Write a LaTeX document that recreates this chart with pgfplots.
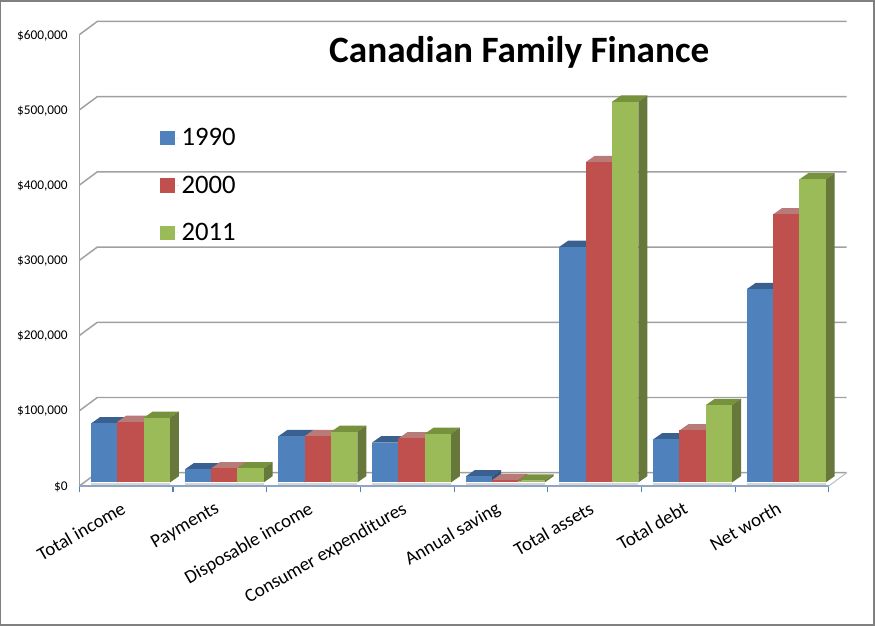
\documentclass[border=0pt]{standalone}
\usepackage{fontspec}
\setmainfont{Carlito}
\usepackage{pgfplots}
\pgfplotsset{compat=1.18}
\definecolor{bfront}{HTML}{4F81BD}\definecolor{btop}{HTML}{3A6090}\definecolor{bside}{HTML}{34537C}
\definecolor{rfront}{HTML}{C0504D}\definecolor{rtop}{HTML}{B87B78}\definecolor{rside}{HTML}{8C3A38}
\definecolor{gfront}{HTML}{9BBB59}\definecolor{gtop}{HTML}{76923C}\definecolor{gside}{HTML}{66783A}
\definecolor{gridc}{HTML}{A0A0A0}\definecolor{axisc}{HTML}{8FA6C2}\definecolor{tickc}{HTML}{4F81BD}
% one 3D bar: category, slot, value in dollars, colour prefix
\newcommand{\threedbar}[4]{%
 \edef\xa{\fpeval{#1+0.125+#2*0.2808}}\edef\xb{\fpeval{\xa+0.2808}}%
 \edef\xc{\fpeval{\xb+0.096}}\edef\xd{\fpeval{\xa+0.096}}%
 \edef\yb{4700}\edef\yt{\fpeval{#3+4700}}\edef\yu{\fpeval{#3+4700+8378}}\edef\yc{\fpeval{4700+8378}}%
 \addplot[fill=#4top,draw=none] coordinates {(\xa,\yt)(\xb,\yt)(\xc,\yu)(\xd,\yu)} --cycle;
 \addplot[fill=#4side,draw=none] coordinates {(\xb,\yb)(\xc,\yc)(\xc,\yu)(\xb,\yt)} --cycle;
 \addplot[fill=#4front,draw=none] coordinates {(\xa,\yb)(\xb,\yb)(\xb,\yt)(\xa,\yt)} --cycle;
}
\newcommand{\cluster}[4]{%
 \edef\sa{\fpeval{#1+0.125}}\edef\sb{\fpeval{#1+0.125+3*0.2808}}%
 \addplot[draw=black!16,line width=1.5pt] coordinates {(\sa,2900)(\sb,2900)};
 \threedbar{#1}{0}{#2}{b}\threedbar{#1}{1}{#3}{r}\threedbar{#1}{2}{#4}{g}%
}
\newcommand{\backgrid}[1]{%
 \edef\yu{\fpeval{#1+17686}}%
 \addplot[draw=gridc,line width=1.1pt] coordinates {(0,#1)(0.192,\yu)(8.192,\yu)};
}
\begin{document}
\begin{tikzpicture}
\path[use as bounding box] (0,0) rectangle (656.25pt,469.5pt);
\draw[color=black!50,line width=1.2pt] (0.5pt,0.6pt) rectangle (655.6pt,468.9pt);
\begin{axis}[
  at={(59.5pt,105pt)},anchor=origin,
  scale only axis,width=562.05pt,height=338.475pt,
  xmin=0,xmax=8,ymin=0,ymax=600000,
  clip=false,
  axis x line*=bottom,axis y line*=left,
  x axis line style={draw=axisc,line width=1.1pt,-},
  y axis line style={draw=gridc,line width=1.1pt,-},
  tick align=outside,
  major tick length=0pt,minor tick length=4.5pt,
  xtick={0.5,1.5,2.5,3.5,4.5,5.5,6.5,7.5},
  minor xtick={0,1,2,3,4,5,6,7,8},
  minor tick style={draw=tickc,line width=0.8pt},
  xticklabels={Total income,Payments,Disposable income,Consumer expenditures,Annual saving,Total assets,Total debt,Net worth},
  xticklabel style={font=\fontsize{14.2pt}{16pt}\selectfont,rotate=30,anchor=north east,inner sep=0pt,yshift=-7.3pt,xshift=-9.3pt},
  ytick={0,100000,200000,300000,400000,500000,600000},
  yticklabels={{\$0},{\$100,000},{\$200,000},{\$300,000},{\$400,000},{\$500,000},{\$600,000}},
  yticklabel style={font=\fontsize{10pt}{12pt}\selectfont,anchor=east,inner sep=0pt,xshift=-8.5pt,yshift=-0.5pt},
  scaled y ticks=false,
  title={Canadian Family Finance},
  title style={font=\fontsize{27.9pt}{32pt}\selectfont\bfseries,at={(0.587,0.9425)},anchor=center,inner sep=0pt},
  legend image code/.code={\fill[#1] (0pt,-5.4pt) rectangle (10.8pt,5.4pt);\path (0pt,0pt) -- (14pt,0pt);},
  legend style={draw=none,fill=none,at={(0.1077,0.7985)},anchor=north west,inner sep=0pt,
     font=\fontsize{20pt}{24pt}\selectfont,row sep=17pt},
  legend cell align=left,
]
\addlegendimage{fill=bfront,draw=none}
\addlegendimage{fill=rfront,draw=none}
\addlegendimage{fill=gfront,draw=none}
\legend{1990,2000,2011}
\backgrid{0}\backgrid{100000}\backgrid{200000}\backgrid{300000}\backgrid{400000}\backgrid{500000}\backgrid{600000}
\addplot[draw=black!25,line width=0.8pt] coordinates {(8,0)(8.192,17686)};
\cluster{0}{78500}{80600}{85900}
\cluster{1}{17300}{18600}{18600}
\cluster{2}{61500}{61500}{67300}
\cluster{3}{53100}{58500}{64600}
\cluster{4}{8000}{3000}{2500}
\cluster{5}{313300}{425900}{506100}
\cluster{6}{57200}{69100}{102800}
\cluster{7}{257000}{356400}{402900}
\end{axis}
\end{tikzpicture}
\end{document}
